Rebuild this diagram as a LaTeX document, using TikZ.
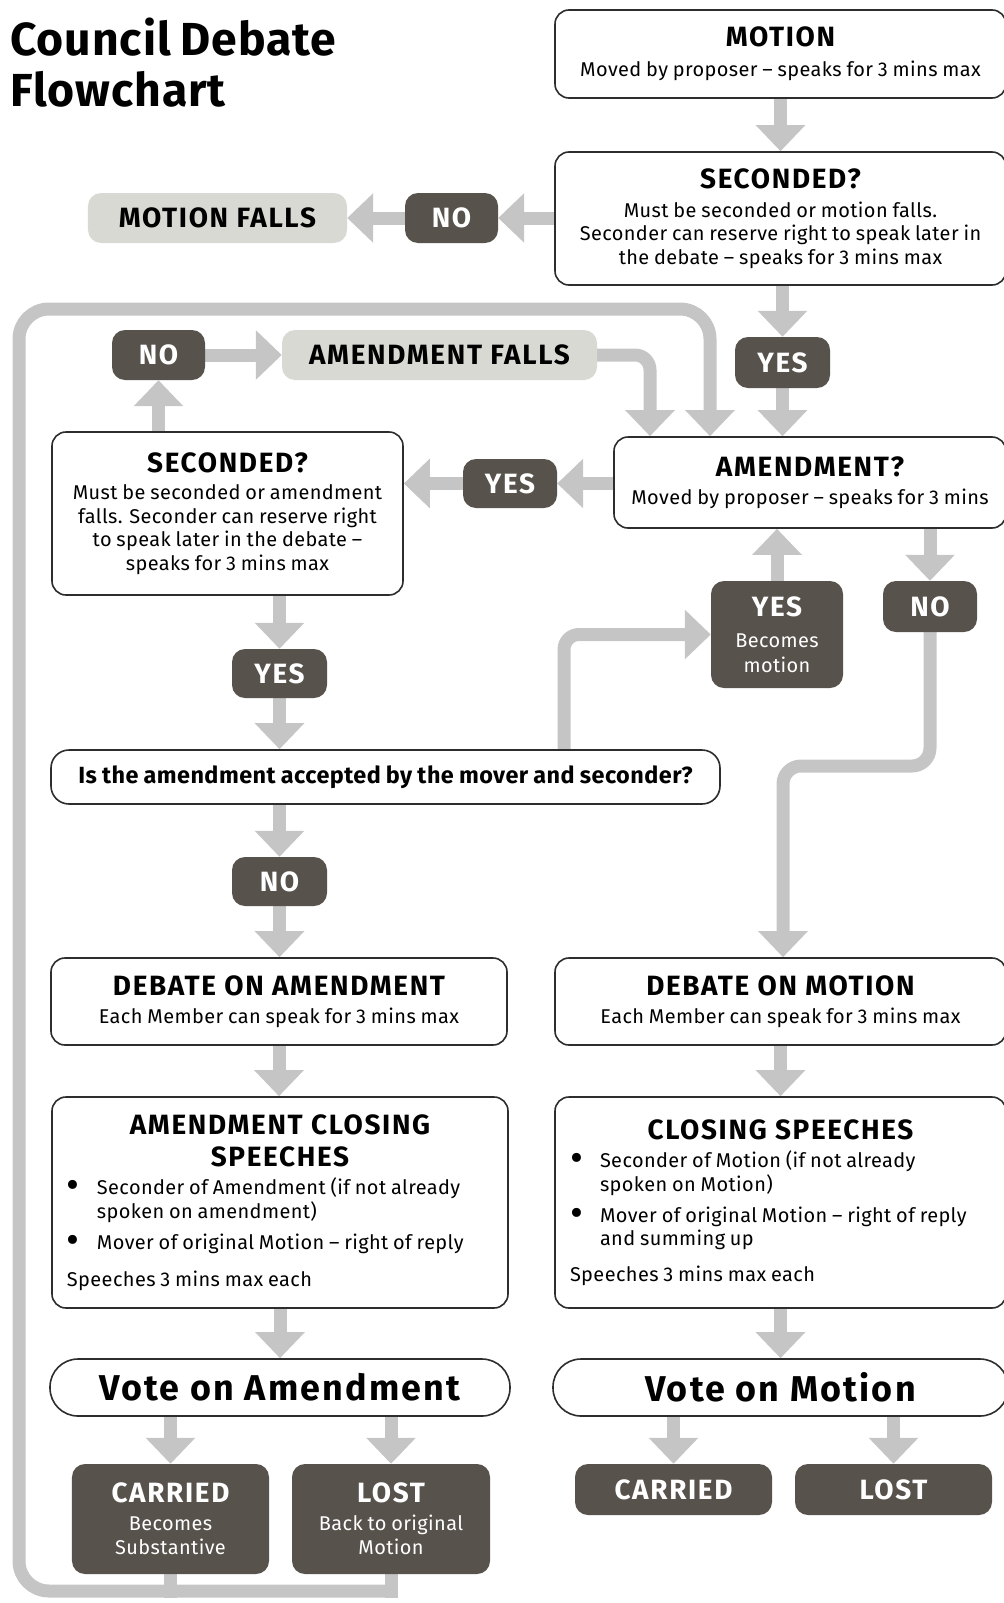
\documentclass[tikz,border=0pt]{standalone}
\usepackage{fontspec}
\setmainfont{Fira Sans}[WordSpace=0.85, LetterSpace=2]
\newfontfamily\headfam{Fira Sans}[LetterSpace=6]
\usetikzlibrary{arrows.meta,backgrounds}
\setlength\parindent{0pt}
\definecolor{flowgray}{RGB}{197,197,197}
\definecolor{pilldark}{RGB}{87,82,76}
\definecolor{pilllight}{RGB}{217,217,212}
\definecolor{edgegray}{RGB}{45,45,45}
\newcommand\headf{\headfam\bfseries\fontsize{28}{32}\selectfont}
\newcommand\bodyf{\fontsize{20}{23.5}\selectfont}
\newcommand\subf{\rmfamily\mdseries\bodyf}
\newcommand\votef{\headfam\bfseries\fontsize{36}{40}\selectfont}
\newcommand\dotmark{\raisebox{-4bp}{\scalebox{2}{\textbullet}}}
\newcommand\bul{\par\noindent\hangindent=30bp\hangafter=1\makebox[30bp][l]{\dotmark}}
\tikzset{
  sz/.style 2 args={minimum width=#1bp, minimum height=#2bp},
  box/.style={draw=edgegray, line width=1.6bp, fill=white, rounded corners=14bp, inner sep=0pt, align=center, font=\bodyf},
  dark/.style={fill=pilldark, text=white, rounded corners=13bp, inner sep=0pt, align=center, font=\headf},
  light/.style={fill=pilllight, rounded corners=13bp, inner sep=0pt, font=\headf},
  flow/.style={draw=flowgray, line width=13bp, -{Triangle[width=48bp,length=26bp]}},
  pipe/.style={draw=flowgray, line width=13bp},
}
\begin{document}
\begin{tikzpicture}[x=1bp, y=-1bp]
\useasboundingbox (0,0) rectangle (1003,1603);
% title
\node[anchor=north west, inner sep=0pt, align=left, font=\bfseries\fontsize{46.5}{51}\selectfont] (title) at (10,18) {Council Debate\\Flowchart};
% motion column
\node[box, sz={451}{88}] (motion) at (780.5,54) {{\headf MOTION}\\[7bp]Moved by proposer – speaks for 3 mins max};
\node[box, sz={451}{133}] (secm) at (780.5,218.5) {{\headf SECONDED?}\\[6bp]Must be seconded or motion falls.\\Seconder can reserve right to speak later in\\the debate – speaks for 3 mins max};
\node[dark, sz={93}{50}] (noM) at (451.5,218) {NO};
\node[light, sz={259}{50}] (mfalls) at (217.5,218) {MOTION FALLS};
\node[dark, sz={95}{51}] (yesS) at (782.5,362.5) {YES};
\node[box, sz={392}{91}] (amd) at (810,482.5) {{\headf AMENDMENT?}\\[5bp]Moved by proposer – speaks for 3 mins};
% amendment column
\node[dark, sz={93}{50}] (noA) at (158.5,355) {NO};
\node[light, sz={315}{50}] (afalls) at (439.5,355) {AMENDMENT FALLS};
\node[box, sz={351}{163}] (seca) at (227.5,513.5) {{\headf SECONDED?}\\[4bp]Must be seconded or amendment\\falls. Seconder can reserve right\\to speak later in the debate –\\speaks for 3 mins max};
\node[dark, sz={94}{49}] (yesA) at (510,483.5) {YES};
\node[dark, sz={95}{49}] (yesB) at (279.5,673.5) {YES};
\node[box, sz={669}{54}, rounded corners=18bp, font=\bfseries\fontsize{23.5}{26}\selectfont] (accept) at (385.5,777) {Is the amendment accepted by the mover and seconder?};
\node[dark, sz={132}{107}] (yesm) at (777,634.5) {YES\\[-1bp]{\subf Becomes}\\[-7bp]{\subf motion}};
\node[dark, sz={94}{51}] (noB) at (930,606.5) {NO};
\node[dark, sz={95}{49}] (noC) at (279.5,881.5) {NO};
% debates
\node[box, sz={456}{87}] (debA) at (279,1001.5) {{\headf DEBATE ON AMENDMENT}\\[5bp]Each Member can speak for 3 mins max};
\node[box, sz={451}{87}] (debM) at (780.5,1001.5) {{\headf DEBATE ON MOTION}\\[5bp]Each Member can speak for 3 mins max};
\node[box, sz={456}{211}, text width=426bp, align=flush left] (closeA) at (280,1202.5) {%
  {\centering\headf AMENDMENT CLOSING\\SPEECHES\par}\vspace{5bp}
  \bul Seconder of Amendment (if not already\newline spoken on amendment)\par\vspace{8bp}
  \bul Mover of original Motion – right of reply\par\vspace{13bp}
  Speeches 3 mins max each};
\node[box, sz={451}{211}, text width=421bp, align=flush left] (closeM) at (780.5,1202.5) {%
  {\centering\headf CLOSING SPEECHES\par}\vspace{5bp}
  \bul Seconder of Motion (if not already\newline spoken on Motion)\par\vspace{8bp}
  \bul Mover of original Motion – right of reply\newline and summing up\par\vspace{12bp}
  Speeches 3 mins max each};
% votes
\node[box, sz={460}{57}, rounded corners=28bp, font=\votef] (voteA) at (280,1387.5) {Vote on Amendment};
\node[box, sz={455}{57}, rounded corners=28bp, font=\votef] (voteM) at (780.5,1387.5) {Vote on Motion};
\node[dark, sz={197}{110}] (carA) at (170.5,1519) {CARRIED\\[-4bp]{\subf Becomes}\\[-8bp]{\subf Substantive}};
\node[dark, sz={198}{110}] (lostA) at (391,1519) {LOST\\[-4bp]{\subf Back to original}\\[-8bp]{\subf Motion}};
\node[dark, sz={197}{51}] (carM) at (673.5,1489.5) {CARRIED};
\node[dark, sz={197}{51}] (lostM) at (893.5,1489.5) {LOST};
% turning points
\coordinate (loopBL) at (19,1591);
\coordinate (loopTL) at (19,309);
\coordinate (loopTR) at (710,309);
\coordinate (afTurn) at (650,354);
\coordinate (accTurn) at (564,637);
\coordinate (noTurn) at (783,766);
\begin{pgfonlayer}{background}
\draw[flow] (motion.south) -- (secm.north);
\draw[flow] (secm.west |- noM) -- (noM.east);
\draw[flow] (noM.west) -- (mfalls.east);
\draw[flow] (secm.south -| yesS) -- (yesS.north);
\draw[flow] (yesS.south) -- (yesS.south |- amd.north);
\draw[flow, rounded corners=15bp] (afalls.east) -| (afTurn |- amd.north);
\draw[flow, rounded corners=30bp] (lostA |- loopBL) -- (loopBL) -- (loopTL) -- (loopTR) -- (loopTR |- amd.north);
\draw[pipe, line cap=rect] (carA) -- (carA |- loopBL);
\draw[pipe, line cap=rect] (lostA) -- (lostA |- loopBL);
\draw[flow] (seca.north -| noA) -- (noA.south);
\draw[flow] (noA.east) -- (afalls.west);
\draw[flow] (amd.west |- yesA) -- (yesA.east);
\draw[flow] (yesA.west) -- (yesA.west -| seca.east);
\draw[flow] (seca.south -| yesB) -- (yesB.north);
\draw[flow] (yesB.south) -- (yesB.south |- accept.north);
\draw[flow, rounded corners=15bp] (accept.north -| accTurn) |- (yesm.west);
\draw[flow] (yesm.north) -- (yesm.north |- amd.south);
\draw[flow] (amd.south -| noB) -- (noB.north);
\draw[flow, rounded corners=18bp] (noB.south) |- (noTurn) -- (noTurn |- debM.north);
\draw[flow] (accept.south -| noC) -- (noC.north);
\draw[flow] (noC.south) -- (noC.south |- debA.north);
\draw[flow] (debA.south) -- (debA.south |- closeA.north);
\draw[flow] (debM.south) -- (debM.south |- closeM.north);
\draw[flow] (closeA.south) -- (closeA.south |- voteA.north);
\draw[flow] (closeM.south) -- (closeM.south |- voteM.north);
\draw[flow] (voteA.south -| carA) -- (carA.north);
\draw[flow] (voteA.south -| lostA) -- (lostA.north);
\draw[flow] (voteM.south -| carM) -- (carM.north);
\draw[flow] (voteM.south -| lostM) -- (lostM.north);
\end{pgfonlayer}
\end{tikzpicture}
\end{document}
